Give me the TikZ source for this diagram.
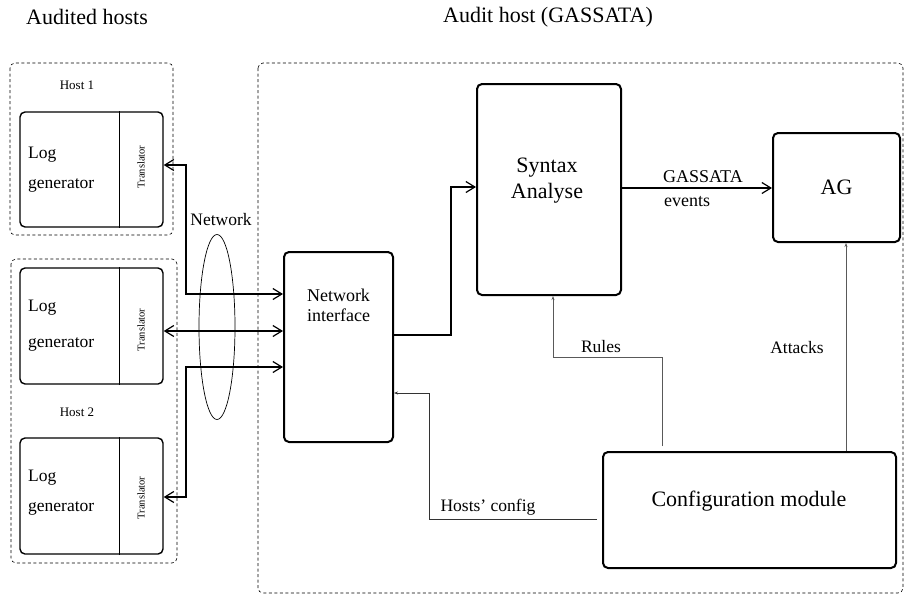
\documentclass[tikz,border=0pt]{standalone}
\usepackage{fontspec}
\setmainfont{Liberation Serif}
\usetikzlibrary{arrows.meta,shapes.geometric}

\newcommand{\fs}[1]{\fontsize{#1}{#1}\selectfont}

\tikzset{
  mainbox/.style={draw, line width=2pt, rounded corners=5pt, inner sep=0pt},
  logbox/.style={draw, line width=1.4pt, rounded corners=5pt, inner sep=0pt,
                 minimum width=143pt},
  hostarea/.style={draw, dashed, dash pattern=on 3pt off 2.5pt, line width=0.6pt,
                   rounded corners=5pt},
  net/.style={line width=1.2pt, {Straight Barb[length=9pt,width=11pt]}-{Straight Barb[length=9pt,width=11pt]}},
  netout/.style={line width=1.2pt, -{Straight Barb[length=9pt,width=11pt]}},
  ctrl/.style={line width=0.6pt, draw=black!65, -{Stealth[length=4pt,width=3pt]}},
  lbl/.style={inner sep=0pt, font=\fs{17.5}},
  trans/.style={rotate=90, inner sep=0pt, font=\fs{10.5}},
  loglbl/.style={anchor=west, inner sep=0pt, font=\fs{17.5}},
}

\begin{document}
\begin{tikzpicture}[x=1pt,y=-1pt]
\useasboundingbox (0,0) rectangle (913,595);

% titles
\node[inner sep=0pt, font=\fs{22}] (t1) at (87,17) {Audited hosts};
\node[inner sep=0pt, font=\fs{22}] (t2) at (548,17) {Audit host (GASSATA)};

% dashed host areas
\draw[hostarea] (10,63) rectangle (173,235);
\draw[hostarea] (11,259) rectangle (177,563);
\draw[hostarea] (258,63) rectangle (903,593);

\node[inner sep=0pt, font=\fs{13}] (h1) at (77,85) {Host 1};
\node[inner sep=0pt, font=\fs{13}] (h2) at (77,412) {Host 2};

% log generators with translators
\node[logbox, minimum height=115pt] (lg1) at (91.5,169.5) {};
\node[logbox, minimum height=116pt] (lg2) at (91.5,326) {};
\node[logbox, minimum height=116pt] (lg3) at (91.5,496) {};
\foreach \b in {lg1,lg2,lg3}{
  \draw[line width=0.8pt] (\b.north -| 119,0) -- (\b.south -| 119,0);
}
\node[loglbl] (l1a) at (28,155) {Log};
\node[loglbl] (l1b) at (28,185) {generator};
\node[loglbl] (l2a) at (28,308) {Log};
\node[loglbl] (l2b) at (28,344) {generator};
\node[loglbl] (l3a) at (28,478) {Log};
\node[loglbl] (l3b) at (28,508) {generator};
\node[trans] (tr1) at (141,167) {Translator};
\node[trans] (tr2) at (141,330) {Translator};
\node[trans] (tr3) at (141,498) {Translator};

% network
\node[draw, ellipse, line width=0.7pt, minimum width=36pt, minimum height=185pt, inner sep=0pt] (netw) at (217,327) {};
\node[lbl] (netl) at (221,220) {Network};

% audit host modules
\node[mainbox, minimum width=109pt, minimum height=190pt] (ni) at (338.5,347) {};
\node[inner sep=0pt, align=center, font=\fs{18}] (nil) at (338.5,305) {Network\\[2pt]interface};

\node[mainbox, minimum width=144pt, minimum height=211pt] (sa) at (549,189.5) {};
\node[inner sep=0pt, align=center, font=\fs{22}] (sal) at (547,181) {Syntax\\[4pt]Analyse};

\node[mainbox, minimum width=127pt, minimum height=109pt, font=\fs{22}] (ag) at (836.5,187.5) {AG};

\node[mainbox, minimum width=293pt, minimum height=116pt] (cm) at (749.5,510) {};
\node[inner sep=0pt, font=\fs{22}] (cml) at (749,501) {Configuration module};

% network links between hosts and network interface
\draw[net] ([yshift=4.5pt]lg1.east) -| (186,294) -- (ni.west |- 0,294);
\draw[net] ([yshift=-5pt]lg2.east) -- (ni.west |- 0,331);
\draw[net] (lg3.east |- 0,497) -| (186,367) -- (ni.west |- 0,367);

% data flow
\draw[netout] (ni.east |- 0,335) -| (451,187) -- (sa.west |- 0,187);
\draw[netout] (sa.east |- 0,188) -- (ag.west |- 0,188);
\node[inner sep=0pt, font=\fs{18}] (ge1) at (703,177) {GASSATA};
\node[inner sep=0pt, font=\fs{18}] (ge2) at (687,202) {events};

% configuration feeds
\draw[ctrl, shorten <=5pt] (cm.north -| 662,0) |- (553,357) -- (sa.south -| 553,0);
\node[lbl] (rl) at (601,347) {Rules};
\draw[ctrl, draw=black!80, shorten <=5pt] (cm.west |- 0,519) -| (429,393) -- (ni.east |- 0,393);
\node[lbl] (hc) at (488,507) {Hosts' config};
\draw[ctrl] (cm.north -| 846,0) -- (ag.south -| 846,0);
\node[lbl] (at) at (797,348) {Attacks};
\end{tikzpicture}
\end{document}
